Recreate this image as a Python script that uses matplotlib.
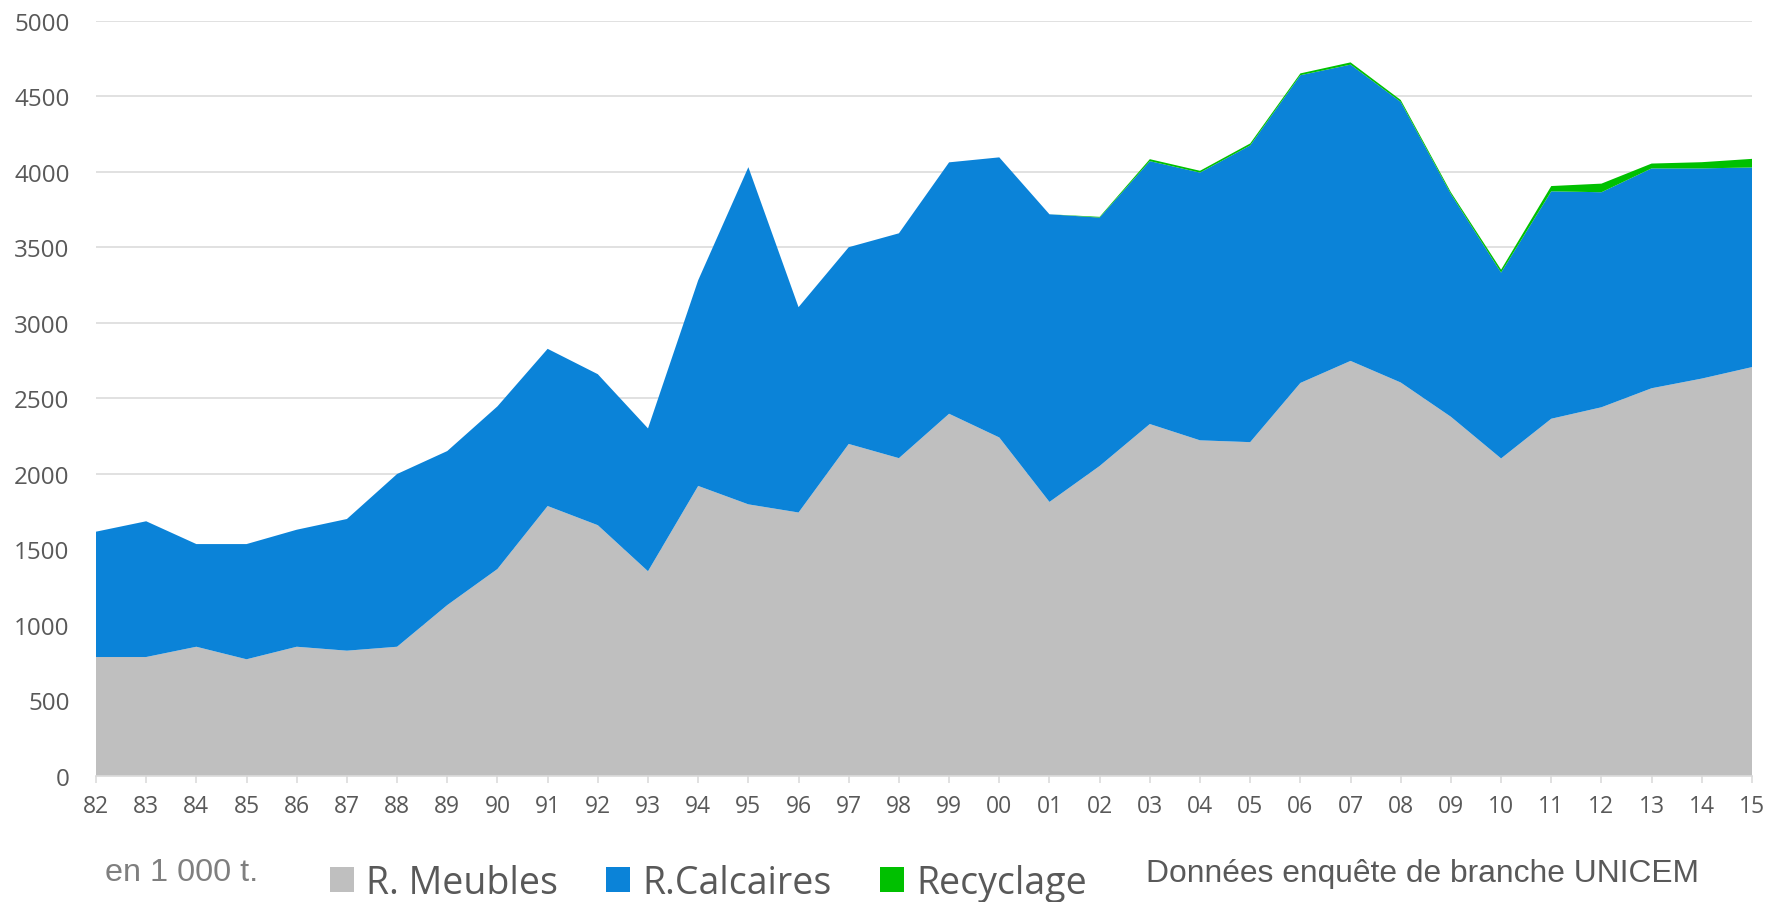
import matplotlib
matplotlib.use("Agg")
import matplotlib.pyplot as plt
import numpy as np

years = ["82", "83", "84", "85", "86", "87", "88", "89", "90", "91", "92", "93",
         "94", "95", "96", "97", "98", "99", "00", "01", "02", "03", "04", "05",
         "06", "07", "08", "09", "10", "11", "12", "13", "14", "15"]
meubles = [786, 786, 854, 771, 854, 828, 854, 1130, 1369, 1786, 1659, 1354,
           1919, 1797, 1743, 2197, 2103, 2397, 2240, 1813, 2051, 2329, 2221, 2209,
           2601, 2747, 2604, 2377, 2101, 2364, 2440, 2566, 2630, 2706]
calcaires = [830, 899, 680, 763, 775, 872, 1144, 1020, 1077, 1041, 1000, 946,
             1362, 2233, 1360, 1303, 1489, 1665, 1855, 1905, 1645, 1741, 1773, 1965,
             2038, 1962, 1858, 1475, 1231, 1506, 1424, 1456, 1392, 1322]
recyclage = [0, 0, 0, 0, 0, 0, 0, 0, 0, 0, 0, 0,
             0, 0, 0, 0, 0, 0, 0, 0, 5, 13, 12, 13,
             12, 15, 13, 12, 19, 35, 57, 32, 41, 57]
series_names = ["R. Meubles", "R.Calcaires", "Recyclage"]
colors = ["#BFBFBF", "#0B83D8", "#00C000"]

grey_txt = "#595959"
grid_col = "#D9D9D9"

fig = plt.figure(figsize=(17.66, 9.03), dpi=100)
ax = fig.add_axes([96 / 1766, 1 - 776.7 / 903, (1752 - 96) / 1766, (776.7 - 21.7) / 903])

x = np.arange(len(years))
polys = ax.stackplot(x, meubles, calcaires, recyclage, colors=colors,
                     labels=series_names, linewidth=0, zorder=2)

ax.set_xlim(0, len(years) - 1)
ax.set_ylim(0, 5000)
ax.set_yticks(np.arange(0, 5001, 500))
ax.set_xticks(x)
ax.set_xticklabels(years)

ax.grid(axis="y", color=grid_col, linewidth=1.1, zorder=0)
ax.set_axisbelow(True)
for s in ["left", "top", "right"]:
    ax.spines[s].set_visible(False)
ax.spines["bottom"].set_color(grid_col)
ax.spines["bottom"].set_linewidth(1.2)
ax.spines["bottom"].set_zorder(3)

ax.tick_params(axis="y", length=0, pad=19, labelsize=17.4, labelcolor=grey_txt)
ax.tick_params(axis="x", length=5, width=1.1, color=grid_col, pad=8.5,
               labelsize=16.5, labelcolor=grey_txt)
for lab in ax.get_yticklabels():
    lab.set_family(["Open Sans", "DejaVu Sans"])
for lab in ax.get_xticklabels():
    lab.set_family(["Open Sans", "DejaVu Sans"])

leg = fig.legend(handles=polys, labels=series_names, loc="center left",
                 bbox_to_anchor=(330 / 1766, 1 - 884 / 903), ncol=3,
                 frameon=False, borderpad=0, borderaxespad=0,
                 handlelength=0.64, handleheight=0.66, handletextpad=0.32,
                 columnspacing=1.29,
                 prop={"family": ["Open Sans", "DejaVu Sans"], "size": 27})
for t in leg.get_texts():
    t.set_color(grey_txt)

fig.text(105 / 1766, 1 - 881 / 903, "en 1 000 t.", ha="left", va="baseline",
         fontsize=23.3, color="#7F7F7F", family=["Liberation Sans", "DejaVu Sans"])
fig.text(1146 / 1766, 1 - 882 / 903, "Données enquête de branche UNICEM",
         ha="left", va="baseline", fontsize=22.9, color=grey_txt,
         family=["Liberation Sans", "DejaVu Sans"])

fig.savefig("out.png", dpi=100, facecolor="white")
